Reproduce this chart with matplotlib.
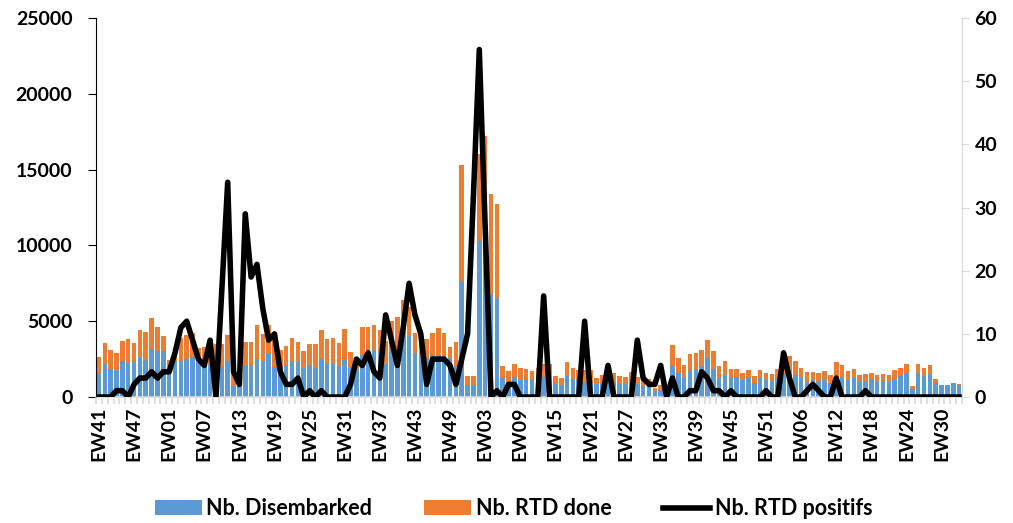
import matplotlib
matplotlib.use('Agg')
from matplotlib import pyplot as plt
import numpy as np

# weekly values
disembarked = [1600, 2180, 1850, 1800, 2370, 2240, 2330, 2630, 2460, 3140, 3030, 3030,
               1900, 2400, 2400, 2490, 2660, 2550, 2110, 2180, 2180, 2000, 2370, 750,
               750, 2100, 2080, 2480, 2390, 2860, 2000, 1770, 2080, 2300, 2300, 1920,
               2080, 1930, 2500, 2200, 2200, 2050, 2500, 1890, 1780, 2760, 2870, 3090,
               3000, 2200, 3100, 3100, 4290, 4030, 2870, 2650, 2550, 2760, 2800, 2650,
               2550, 2040, 7650, 790, 790, 10300, 10300, 6820, 6500, 1270, 1000, 1300,
               1100, 1180, 1100, 1140, 1320, 1320, 880, 770, 1360, 1170, 1100, 990,
               920, 840, 920, 990, 990, 880, 880, 880, 880, 700, 950, 400,
               440, 220, 2020, 1580, 1320, 1720, 1830, 2020, 2570, 1830, 1280, 1430,
               1250, 1250, 1140, 1250, 920, 1250, 1100, 1060, 1210, 1500, 1430, 1430,
               1250, 1060, 1100, 1060, 1100, 950, 1320, 1320, 1140, 1280, 990, 1030,
               1100, 990, 1030, 990, 1170, 1360, 1580, 510, 1610, 1410, 1500, 950,
               770, 770, 920, 770]

total_height = [2630, 3550, 3120, 2900, 3680, 3840, 3550, 4430, 4280, 5200, 4650, 4000,
                2440, 2820, 3870, 4090, 4250, 3260, 3320, 3430, 3480, 3480, 4100, 1600,
                1500, 3640, 3660, 4760, 4170, 4760, 4170, 3090, 3360, 3860, 3600, 3030,
                3500, 3470, 4410, 3800, 3900, 3530, 4470, 2940, 2600, 4650, 4650, 4720,
                4400, 3700, 5000, 5260, 6380, 5940, 4200, 3900, 3800, 4230, 4520, 4250,
                3270, 3640, 15300, 1400, 1400, 16000, 17200, 13400, 12700, 2060, 1730, 2150,
                1930, 1850, 1730, 1940, 2160, 2200, 1360, 1250, 2310, 1910, 1800, 1760,
                1760, 1250, 1430, 1690, 1600, 1360, 1320, 1650, 1300, 1210, 1170, 600,
                800, 500, 3410, 2600, 2090, 2820, 2900, 3100, 3780, 3010, 2020, 2350,
                1830, 1870, 1580, 1760, 1360, 1800, 1610, 1540, 1870, 2500, 2680, 2380,
                1940, 1650, 1650, 1610, 1690, 1470, 2310, 2090, 1720, 1870, 1430, 1550,
                1610, 1430, 1540, 1430, 1800, 1910, 2200, 700, 2200, 1940, 2090, 1170,
                790, 790, 940, 880]

rtd_done = [t - d for t, d in zip(total_height, disembarked)]

rtd_positive = [0, 0, 0, 1, 1, 0, 2, 3, 3, 4, 3, 4,
                4, 7, 11, 12, 9, 6, 5, 9, 0, 17, 34, 4,
                2, 29, 19, 21, 14, 9, 10, 4, 2, 2, 3, 0,
                1, 0, 1, 0, 0, 0, 0, 2, 6, 5, 7, 4,
                3, 13, 9, 5, 11, 18, 13, 10, 2, 6, 6, 6,
                5, 2, 6, 10, 32, 55, 27, 0, 1, 0, 2, 2,
                0, 0, 0, 0, 16, 0, 0, 0, 0, 0, 0, 12,
                0, 0, 0, 5, 0, 0, 0, 0, 9, 3, 2, 2,
                5, 0, 3, 0, 0, 1, 1, 4, 3, 1, 1, 0,
                1, 0, 0, 0, 0, 0, 1, 0, 0, 7, 3, 0,
                0, 1, 2, 1, 0, 0, 3, 0, 0, 0, 0, 1,
                0, 0, 0, 0, 0, 0, 0, 0, 0, 0, 0, 0,
                0, 0, 0, 0]

# epidemiological weeks (one week missing in the third season)
weeks = (list(range(41, 53)) + list(range(1, 53)) + list(range(1, 52))
         + list(range(1, 34)))
week_labels = ['EW%02d' % w for w in weeks]

plt.rcParams['font.family'] = ['Lato', 'DejaVu Sans']
plt.rcParams['font.weight'] = 'bold'

fig = plt.figure(figsize=(10.13, 5.23), dpi=100)
ax = fig.add_axes([0.0948, 0.2409, 0.8549, 0.7247])
ax2 = ax.twinx()

x = np.arange(len(weeks))
blue = '#5B9BD5'
orange = '#ED7D31'

ax.bar(x, disembarked, width=0.78, color=blue, label='Nb. Disembarked')
ax.bar(x, rtd_done, width=0.78, bottom=disembarked, color=orange, label='Nb. RTD done')
ax2.plot(x, rtd_positive, color='black', linewidth=4, solid_joinstyle='round',
         label='Nb. RTD positifs')

ax.set_xlim(-0.5, len(weeks) - 0.5)
ax.set_ylim(0, 25000)
ax.set_yticks(np.arange(0, 25001, 5000))
ax2.set_ylim(0, 60)
ax2.set_yticks(np.arange(0, 61, 10))

# labels every 6 weeks, small grey ticks between categories
ax.set_xticks(x[::6])
ax.set_xticklabels(week_labels[::6], rotation=90, fontsize=14, fontweight='bold')
ax.set_xticks(np.arange(-0.5, len(weeks), 1), minor=True)
ax.tick_params(axis='x', which='major', length=0, pad=7)
ax.tick_params(axis='x', which='minor', length=5, color='#D9D9D9', width=1.2)
ax.tick_params(axis='y', labelsize=14, length=6, pad=11)
ax2.tick_params(axis='y', labelsize=14, length=5, pad=4, color='#D9D9D9')
for lab in ax.get_yticklabels() + ax2.get_yticklabels():
    lab.set_fontweight('bold')

for a in (ax, ax2):
    a.spines['top'].set_visible(False)
ax.spines['bottom'].set_color('#D9D9D9')
ax.spines['bottom'].set_linewidth(1.2)
ax2.spines['bottom'].set_visible(False)
ax.spines['left'].set_color('black')
ax.spines['right'].set_visible(False)
ax2.spines['left'].set_visible(False)
ax2.spines['right'].set_color('#D9D9D9')

h1, l1 = ax.get_legend_handles_labels()
h2, l2 = ax2.get_legend_handles_labels()
fig.legend(h1 + h2, l1 + l2, loc='center', bbox_to_anchor=(0.507, 0.027), ncol=3,
           frameon=False, fontsize=15.5, handlelength=2.2, handleheight=0.7,
           columnspacing=2.4, handletextpad=0.2)

fig.savefig('out.png', dpi=100)
